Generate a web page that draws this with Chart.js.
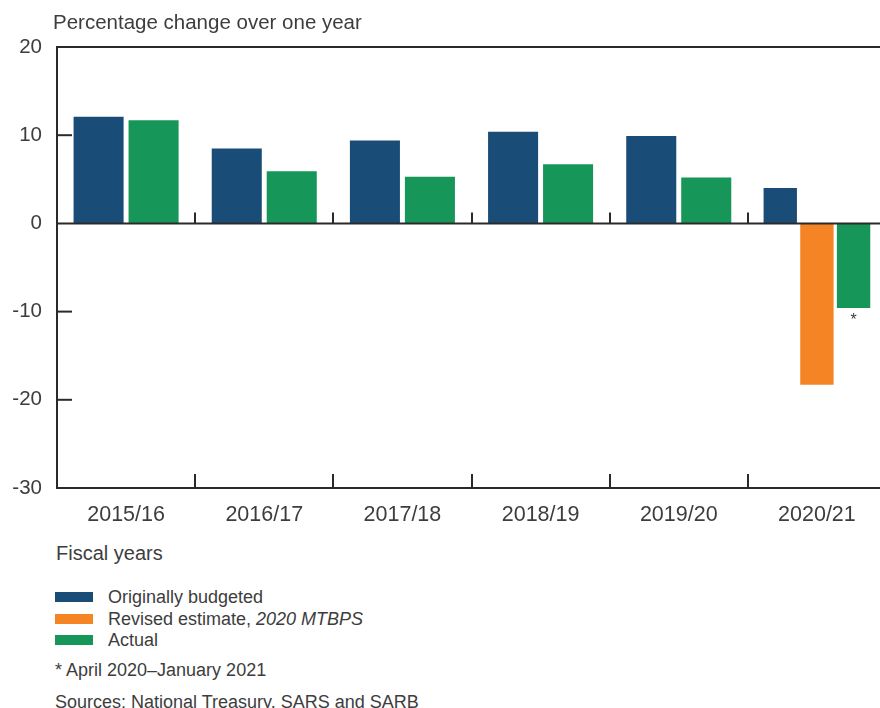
<!DOCTYPE html>
<html>
<head>
<meta charset="utf-8">
<script src="https://cdn.jsdelivr.net/npm/chart.js@4/dist/chart.umd.min.js"></script>
<style>
  html, body { margin: 0; padding: 0; overflow: hidden; background: #fff; width: 880px; height: 708px; }
  body { position: relative; font-family: "Liberation Sans", Arial, sans-serif; color: #3d3d3d; }
  #wrap { position: absolute; left: 0; top: 0; width: 888px; height: 530px; }
  .t { position: absolute; white-space: nowrap; line-height: 24px; }
  .box { position: absolute; left: 55px; width: 38px; height: 10px; }
</style>
</head>
<body>
<div id="wrap"><canvas id="c" width="888" height="530"></canvas></div>
<div class="t" id="ytitle" style="left:53px; top:10px; font-size:20.5px;">Percentage change over one year</div>
<div class="t" style="left:56px; top:541px; font-size:20px;">Fiscal years</div>
<div class="box" style="top:592px; background:#1a4c78;"></div>
<div class="t" style="left:108px; top:585px; font-size:18px;">Originally budgeted</div>
<div class="box" style="top:614px; background:#f48424;"></div>
<div class="t" style="left:108px; top:607px; font-size:18px;">Revised estimate, <i>2020 MTBPS</i></div>
<div class="box" style="top:635px; background:#179659;"></div>
<div class="t" style="left:108px; top:628px; font-size:18px;">Actual</div>
<div class="t" style="left:55px; top:658px; font-size:18px;">* April 2020–January 2021</div>
<div class="t" style="left:55px; top:690px; font-size:18px;">Sources: National Treasury, SARS and SARB</div>
<script>
const categories = ["2015/16", "2016/17", "2017/18", "2018/19", "2019/20", "2020/21"];
const originallyBudgeted = [12.1, 8.5, 9.4, 10.4, 9.9, 4.0];
const revisedEstimate = [null, null, null, null, null, -18.3];
const actual = [11.7, 5.9, 5.3, 6.7, 5.2, -9.6];
const yTicks = [20, 10, 0, -10, -20, -30];

const FONT = "'Liberation Sans', Arial, sans-serif";
const TEXT = "#3d3d3d";
const AXIS = "#2a2a2a";

const axesPlugin = {
  id: "axesPlugin",
  afterDatasetsDraw(chart) {
    const ctx = chart.ctx;
    const a = chart.chartArea;
    const x = chart.scales.x, y = chart.scales.y;
    ctx.save();
    ctx.strokeStyle = AXIS;
    ctx.lineWidth = 2;
    ctx.lineCap = "butt";
    const line = (x1, y1, x2, y2) => { ctx.beginPath(); ctx.moveTo(x1, y1); ctx.lineTo(x2, y2); ctx.stroke(); };
    const left = a.left, right = chart.width;
    line(left - 1, y.getPixelForValue(20), right, y.getPixelForValue(20));
    line(left - 1, y.getPixelForValue(0), right, y.getPixelForValue(0));
    line(left - 1, y.getPixelForValue(-30), right, y.getPixelForValue(-30));
    line(left, y.getPixelForValue(20) - 1, left, y.getPixelForValue(-30) + 1);
    yTicks.forEach(v => {
      if (v === 20 || v === 0 || v === -30) return;
      const py = y.getPixelForValue(v);
      line(left, py, left + 15, py);
    });
    for (let i = 0; i < categories.length - 1; i++) {
      const bx = Math.round((x.getPixelForValue(i) + x.getPixelForValue(i + 1)) / 2);
      const z = y.getPixelForValue(0);
      const b = y.getPixelForValue(-30);
      line(bx, z, bx, z - 11);
      line(bx, b, bx, b - 14);
    }
    const meta = chart.getDatasetMeta(2);
    const el = meta.data[5];
    ctx.fillStyle = TEXT;
    ctx.font = "16px " + FONT;
    ctx.textAlign = "center";
    ctx.textBaseline = "middle";
    ctx.fillText("*", el.x, el.y + 13);
    ctx.restore();
  }
};

new Chart(document.getElementById("c"), {
  type: "bar",
  data: {
    labels: categories,
    datasets: [
      { label: "Originally budgeted", data: originallyBudgeted, backgroundColor: "#1a4c78" },
      { label: "Revised estimate, 2020 MTBPS", data: revisedEstimate, backgroundColor: "#f48424" },
      { label: "Actual", data: actual, backgroundColor: "#179659" }
    ]
  },
  options: {
    responsive: false,
    animation: false,
    skipNull: true,
    categoryPercentage: 0.796,
    barPercentage: 0.91,
    layout: { padding: { top: 47, right: 2, left: 0, bottom: 0 } },
    plugins: { legend: { display: false }, tooltip: { enabled: false } },
    scales: {
      x: {
        grid: { display: false, drawTicks: false },
        border: { display: false },
        ticks: { color: TEXT, font: { family: FONT, size: 21.5 }, padding: 14, maxRotation: 0 },
        afterFit(s) { s.height = 42; }
      },
      y: {
        min: -30, max: 20,
        afterBuildTicks(s) { s.ticks = yTicks.map(v => ({ value: v })); },
        grid: { display: false, drawTicks: false },
        border: { display: false },
        ticks: { color: TEXT, font: { family: FONT, size: 20.5 }, padding: 15 },
        afterFit(s) { s.width = 57; }
      }
    }
  },
  plugins: [axesPlugin]
});
</script>
</body>
</html>
